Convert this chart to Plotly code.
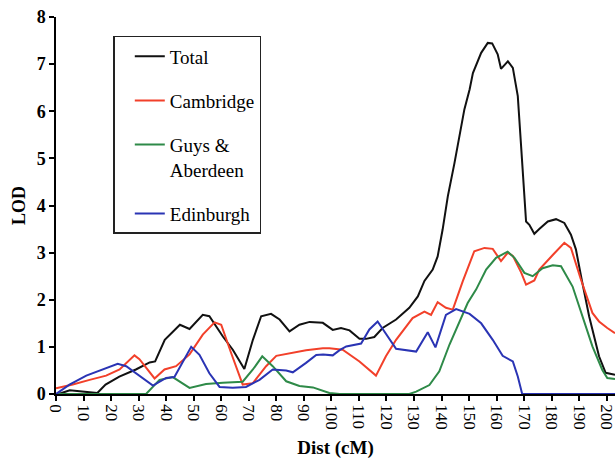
import plotly.graph_objects as go

# LOD scores along the chromosome (distance in cM)
total_cm = [0, 2, 5, 8.5, 12, 15, 18, 23, 29, 34, 36, 39.5, 45, 48.5, 53.3, 55.7, 60.6, 64.2,
            68.4, 71.5, 74.5, 78.1, 81.2, 84.8, 88.4, 92.1, 96.9, 100.5, 103.5, 106.6, 110.2,
            112.6, 115.6, 118.6, 123.5, 128.3, 131.4, 133.8, 136.8, 138.6, 140.4, 142.3, 144.7,
            147.1, 148.3, 150.2, 151.4, 154.4, 156.8, 158.4, 160.4, 161.6, 164.1, 165.9, 167.7,
            168.9, 170.1, 170.7, 171.9, 173.7, 175.5, 178.6, 181.6, 184.6, 187, 188.8, 191,
            193.6, 197.2, 199.6, 203]
total_lod = [0, 0.02, 0.08, 0.06, 0.03, 0.02, 0.2, 0.37, 0.52, 0.67, 0.69, 1.15, 1.47, 1.38,
             1.68, 1.65, 1.22, 0.94, 0.53, 1.15, 1.65, 1.70, 1.58, 1.33, 1.47, 1.53, 1.51, 1.36,
             1.40, 1.35, 1.17, 1.17, 1.21, 1.40, 1.58, 1.83, 2.07, 2.40, 2.64, 2.92, 3.49, 4.20,
             4.90, 5.68, 6.04, 6.46, 6.81, 7.24, 7.45, 7.44, 7.21, 6.90, 7.06, 6.92, 6.32, 5.26,
             4.05, 3.66, 3.59, 3.40, 3.50, 3.66, 3.71, 3.63, 3.38, 3.07, 2.40, 1.65, 0.80, 0.45,
             0.41]

cambridge_cm = [0, 6.1, 12.2, 18.2, 23.1, 28.5, 30.3, 35.8, 39.4, 43.6, 48.5, 53.3, 57.6, 60,
                63.6, 67.8, 71.5, 76.3, 80, 86, 90.8, 96.9, 99.3, 104.1, 110.2, 116.2, 119.8,
                123.5, 129.5, 133.8, 136.2, 138.6, 141.6, 144.1, 147.7, 151.9, 155.6, 158.6,
                161.6, 164.1, 165.9, 168.9, 170.7, 173.7, 175.5, 180.4, 184.6, 187, 190.5,
                194.8, 197.2, 200.2, 203]
cambridge_lod = [0.12, 0.2, 0.3, 0.39, 0.52, 0.82, 0.74, 0.33, 0.52, 0.59, 0.84, 1.26, 1.52,
                 1.47, 0.87, 0.2, 0.23, 0.59, 0.81, 0.88, 0.93, 0.97, 0.97, 0.94, 0.69, 0.39,
                 0.80, 1.15, 1.61, 1.75, 1.68, 1.95, 1.83, 1.79, 2.39, 3.03, 3.10, 3.08, 2.82,
                 3.0, 2.93, 2.58, 2.32, 2.41, 2.64, 2.95, 3.21, 3.10, 2.45, 1.72, 1.54, 1.40,
                 1.29]

guys_cm = [0, 32.7, 37.6, 42.4, 48.5, 54.5, 60.6, 67.8, 71.5, 74.9, 78.7, 83.6, 88.4, 93.3,
           99.3, 103, 128.3, 130.8, 135.6, 139.2, 142.9, 146.5, 149.5, 152.6, 156.2, 159.8,
           164, 166.5, 170.1, 173.1, 176.7, 180.4, 183.4, 187.6, 191.2, 194.8, 198.4, 200.2,
           203]
guys_lod = [0, 0, 0.30, 0.36, 0.13, 0.21, 0.24, 0.26, 0.52, 0.80, 0.59, 0.27, 0.17, 0.14, 0.02,
            0, 0, 0.05, 0.19, 0.48, 1.05, 1.54, 1.93, 2.22, 2.64, 2.89, 3.02, 2.89, 2.57, 2.50,
            2.67, 2.73, 2.71, 2.28, 1.65, 1.01, 0.51, 0.34, 0.32]

edinburgh_cm = [0, 4.9, 11, 17, 22.4, 25.5, 30.3, 35.2, 40, 43, 49.1, 52.1, 55.7, 59.4, 64.2,
                69, 73.9, 78.7, 83.6, 86, 90.8, 94.5, 97, 100.5, 103, 105.4, 110.8, 113.8,
                116.8, 119.8, 123.5, 130.8, 135, 137.8, 141.6, 145.3, 150.2, 154.4, 158.6,
                162.2, 165.9, 167.7, 169.3, 203]
edinburgh_lod = [0, 0.2, 0.39, 0.52, 0.64, 0.59, 0.39, 0.18, 0.34, 0.36, 1.0, 0.83, 0.44, 0.15,
                 0.13, 0.15, 0.30, 0.52, 0.50, 0.46, 0.66, 0.83, 0.84, 0.82, 0.93, 1.01, 1.07,
                 1.37, 1.54, 1.29, 0.96, 0.90, 1.31, 0.99, 1.68, 1.80, 1.70, 1.50, 1.15, 0.81,
                 0.69, 0.37, 0, 0]

x_ticks = list(range(0, 201, 10))
y_ticks = list(range(0, 9))

SERIF = "Liberation Serif"

series = [
    ("Total", total_cm, total_lod, "#111111"),
    ("Cambridge", cambridge_cm, cambridge_lod, "#f2402a"),
    ("Guys &<br>Aberdeen", guys_cm, guys_lod, "#2e8a48"),
    ("Edinburgh", edinburgh_cm, edinburgh_lod, "#2a34b4"),
]

fig = go.Figure()
for i, (name, xs, ys, color) in enumerate(series):
    fig.add_trace(go.Scatter(
        x=xs, y=ys, mode="lines", name=name, legendgroup=str(i),
        line=dict(color=color, width=2),
    ))

fig.update_layout(
    width=616, height=461,
    margin=dict(l=56, r=1, t=17, b=67),
    paper_bgcolor="white", plot_bgcolor="white",
    font=dict(family=SERIF, color="black"),
    showlegend=True,
    legend=dict(
        x=0.1025, y=0.950, xanchor="left", yanchor="top",
        bgcolor="white", bordercolor="#222222", borderwidth=1.5,
        font=dict(family=SERIF, size=19, color="black"),
        traceorder="grouped", tracegroupgap=16.5, valign="top",
        indentation=15,
    ),
    xaxis=dict(
        range=[0, 203], tickmode="array", tickvals=x_ticks,
        ticktext=[str(v) for v in x_ticks], tickangle=90,
        ticklabeloverflow="allow",
        ticks="outside", ticklen=5, tickwidth=1.5, tickcolor="black",
        showline=True, linecolor="black", linewidth=1.5,
        showgrid=False, zeroline=False,
        tickfont=dict(family=SERIF, size=17, color="black"),
        title=dict(text="Dist (cM)", standoff=12,
                   font=dict(family=SERIF, size=19, color="black", weight="bold")),
    ),
    yaxis=dict(
        range=[0, 8], tickmode="array", tickvals=y_ticks,
        ticks="outside", ticklen=5, tickwidth=1.5, tickcolor="black",
        showline=True, linecolor="black", linewidth=1.5,
        showgrid=False, zeroline=False,
        tickfont=dict(family=SERIF, size=18, color="black", weight="bold"),
        title=dict(text="LOD", standoff=6,
                   font=dict(family=SERIF, size=18, color="black", weight="bold")),
    ),
)

fig.write_html("out.html")
